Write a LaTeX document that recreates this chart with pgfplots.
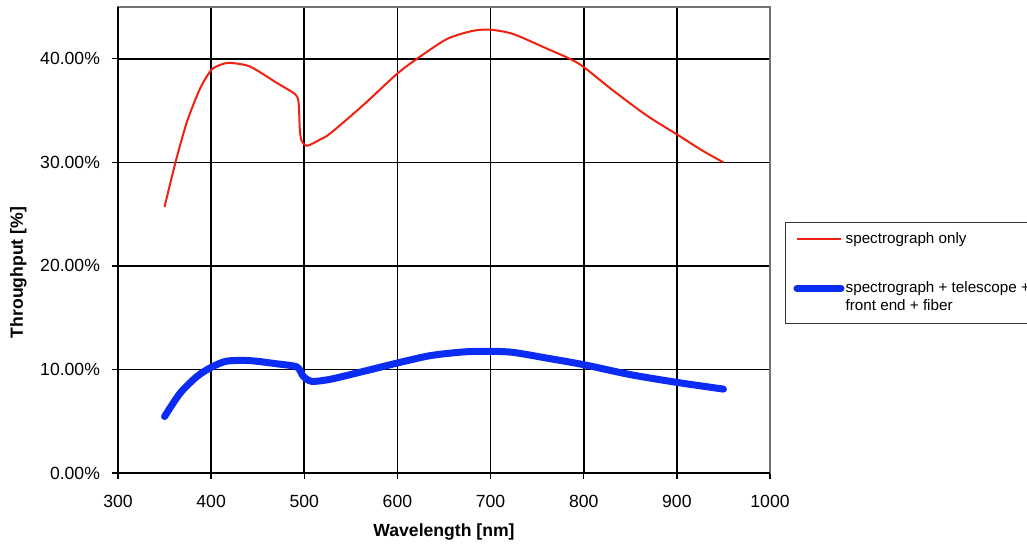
\documentclass[border=0pt]{standalone}
\usepackage{pgfplots}
\pgfplotsset{compat=1.18}
\usepackage{fontspec}
\setmainfont{Liberation Sans}
\definecolor{specred}{HTML}{F2200F}
\definecolor{specblue}{HTML}{0A2CF5}
\pgfplotsset{
  flat legend/.style={legend image code/.code={\draw[##1] (0pt,0pt) -- (22pt,0pt);}},
  raised legend/.style={legend image code/.code={\draw[##1] (0pt,4.3pt) -- (22pt,4.3pt);}},
}

\begin{document}
\fontsize{8.5}{10}\selectfont
\begin{tikzpicture}
\useasboundingbox (-59pt,-35.5pt) rectangle (454.5pt,236.5pt);
\begin{axis}[
  scale only axis,
  width=326pt, height=233pt,
  xmin=300, xmax=1000, ymin=0, ymax=45,
  xtick={300,400,...,1000},
  ytick={0,10,20,30,40},
  yticklabels={0.00\%,10.00\%,20.00\%,30.00\%,40.00\%},
  /pgf/number format/assume math mode=true,
  /pgf/number format/1000 sep={},
  font=\fontsize{8.8}{10}\selectfont,
  tick align=outside,
  major tick length=3pt,
  tick style={black, line width=0.7pt},
  xtick pos=bottom, ytick pos=left,
  grid=major,
  major grid style={black, line width=0.8pt},
  axis line style={draw=black!55, line width=0.9pt},
  xticklabel style={yshift=-5pt},
  yticklabel style={xshift=-3pt},
  xlabel={\textbf{Wavelength [nm]}},
  ylabel={\textbf{Throughput [\%]}},
  xlabel style={at={(axis description cs:0.5,0)}, anchor=center, yshift=-29.5pt},
  ylabel style={at={(axis description cs:-0.153,0.43)}, anchor=center},
  legend cell align=left,
  legend style={at={(1.023,0.5386)}, anchor=north west,
    draw=black!80, line width=0.5pt, fill=white,
    font=\fontsize{7.6}{9.3}\selectfont,
    inner xsep=4pt, inner ysep=4pt, row sep=15.5pt,
    cells={anchor=west, align=left},
    nodes={inner xsep=0.6pt, inner ysep=1pt}},
]

% spectrograph only
\addplot[specred, line width=1pt, smooth, tension=0.45, flat legend] coordinates {
  (350,25.7) (362,30.1) (374,33.9) (388,37.1) (400,38.9) (409.5,39.4)
  (420,39.6) (441.7,39.25) (470,37.7) (490,36.6) (493.5,36.0)
  (494.5,34.8) (495.2,33.2) (497,32.1) (503,31.6) (517,32.2)
  (528,32.8) (563,35.5) (599,38.5) (621,40.0) (653,41.9) (681,42.7)
  (700,42.8) (724,42.4) (760,41.0) (785,40.0) (800,39.2) (832,36.9)
  (868,34.5) (900,32.7) (928,31.1) (950,30.0)
};
\addlegendentry{spectrograph only}

% spectrograph + telescope + front end + fiber
\addplot[specblue, line width=3.5pt, line cap=round, smooth, tension=0.45, raised legend] coordinates {
  (350,5.45) (366.6,7.7) (384.5,9.3) (400,10.2) (416.7,10.8)
  (441.7,10.85) (470,10.55) (492,10.24) (499,9.33) (508,8.85)
  (528,9.05) (563,9.8) (599,10.6) (635,11.33) (671,11.69)
  (699,11.75) (724,11.65) (760,11.1) (800,10.46) (850,9.5)
  (900,8.75) (950,8.1)
};
\addlegendentry{spectrograph + telescope +\\front end + fiber}

\end{axis}
\draw[black, line width=1.2pt] (0pt,233pt) -- (0pt,0pt) -- (326pt,0pt);
\end{tikzpicture}
\end{document}
